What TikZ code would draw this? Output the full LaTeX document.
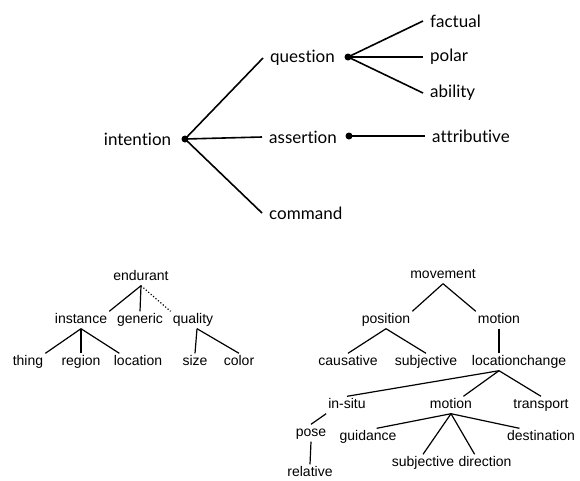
\documentclass[tikz,border=0pt]{standalone}
\usepackage{fontspec}
\usepackage{tikz}
\usetikzlibrary{calc, positioning}
\newfontfamily\topfont[Ligatures=NoCommon]{Lato}
\newfontfamily\treefont{Liberation Sans}

\begin{document}
\begin{tikzpicture}[-,x=1pt,y=-1pt,
                    top label/.style={inner xsep=7pt,inner ysep=2pt,font=\topfont\fontsize{17}{20}\selectfont},
                    tree label/.style={inner sep=2pt,text height=10pt,text depth=3pt,font=\treefont\fontsize{14}{16}\selectfont},
                    branch/.style={line width=1.6pt},
                    tree edge/.style={line width=1.2pt},
                    dot/.style={circle,fill=black,inner sep=0pt,minimum size=7pt}]
\useasboundingbox (0,0) rectangle (580,480);

%DRAWING INTENTION TREE
  \node[dot] (idot) at (185,139) {};
  \node[top label] (intention) [left=3pt of idot] {intention};
  \node[top label,anchor=west] (question) at (263,58) {question};
  \node[top label,anchor=west] (assertion) at (262,137) {assertion};
  \node[top label,anchor=west] (command) at (262,213) {command};

  \node[dot] (qdot) at (348,57) {};
  \node[dot] (adot) at (349,136) {};

  \node[top label,anchor=west] (factual) at (423,21) {factual};
  \node[top label,anchor=west] (polar) at (423,57) {polar};
  \node[top label,anchor=west] (ability) at (423,93) {ability};
  \node[top label,anchor=west] (attributive) at (425,136) {attributive};

  \draw[branch] (idot.center)--(question.west);
  \draw[branch] (idot.center)--(assertion.west);
  \draw[branch] (idot.center)--(command.west);
  \draw[branch] (qdot.center)--(factual.west);
  \draw[branch] (qdot.center)--(polar.west);
  \draw[branch] (qdot.center)--(ability.west);
  \draw[branch] (adot.center)--(attributive.west);

%DRAWING ENDURANT TREE
  \node[tree label] (endurant) at (141,277) {endurant};
  \node[tree label] (instance) at (81,320) {instance};
  \node[tree label] (generic) at (140,320) {generic};
  \node[tree label] (quality) at (193,320) {quality};
  \node[tree label] (thing) at (28,362) {thing};
  \node[tree label] (region) at (81,362) {region};
  \node[tree label] (location) at (138,362) {location};
  \node[tree label] (size) at (195,362) {size};
  \node[tree label] (color) at (239,362) {color};

  \draw[tree edge] (endurant.south)--(instance.north east);
  \draw[tree edge] (endurant.south)--(generic.north);
  \draw[tree edge,dotted] (endurant.south)--(quality.north west);
  \draw[tree edge] (instance.south)--(thing.north east);
  \draw[tree edge] (instance.south)--(region.north);
  \draw[tree edge] (instance.south)--(location.155);
  \draw[tree edge] ([xshift=4pt]quality.south)--(size.north);
  \draw[tree edge] ([xshift=4pt]quality.south)--(color.north);

%DRAWING MOVEMENT TREE
  \node[tree label] (movement) at (443,275) {movement};
  \node[tree label] (position) at (386,320) {position};
  \node[tree label] (motion) at (499,320) {motion};
  \node[tree label] (causative) at (348,362) {causative};
  \node[tree label] (subjective) at (426,362) {subjective};
  \node[tree label] (locationchange) at (519,362) {locationchange};
  \node[tree label] (insitu) at (347,405) {in-situ};
  \node[tree label] (motionB) at (451,405) {motion};
  \node[tree label] (transport) at (541,405) {transport};
  \node[tree label] (pose) at (311,433) {pose};
  \node[tree label] (relative) at (310,473) {relative};
  \node[tree label] (guidance) at (368,437) {guidance};
  \node[tree label] (destination) at (541,437) {destination};
  \node[tree label] (subjectiveB) at (423,463) {subjective};
  \node[tree label] (direction) at (485,463) {direction};

  \coordinate (lcJoin) at (locationchange.south -| motion.south);

  \draw[tree edge] (movement.south)--(position.north east);
  \draw[tree edge] (movement.south)--(motion.north west);
  \draw[tree edge] (position.south)--(causative.north);
  \draw[tree edge] (position.south)--(subjective.north);
  \draw[tree edge] (motion.south)--(motion.south |- locationchange.north);
  \draw[tree edge] (lcJoin)--(insitu.north);
  \draw[tree edge] (lcJoin)--(motionB.35);
  \draw[tree edge] (lcJoin)--(transport.north);
  \draw[tree edge] (insitu.south west)--(pose.north);
  \draw[tree edge] (pose.south)--(relative.north);
  \draw[tree edge] (motionB.south)--(guidance.45);
  \draw[tree edge] (motionB.south)--(subjectiveB.north);
  \draw[tree edge] (motionB.south)--(direction.140);
  \draw[tree edge] (motionB.south)--(destination.158);

\end{tikzpicture}
\end{document}
